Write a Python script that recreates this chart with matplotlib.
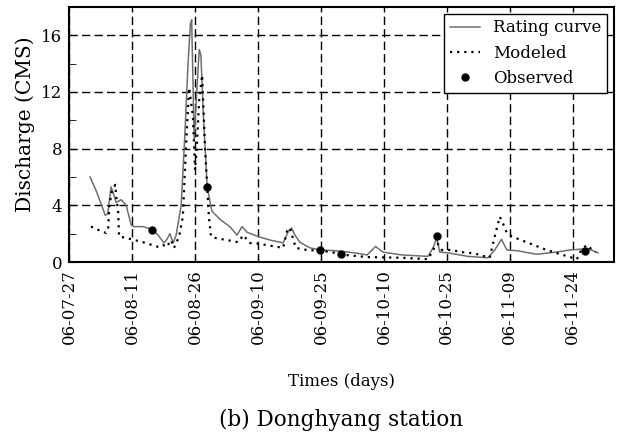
import pandas as pd
import matplotlib
matplotlib.use("Agg")
import matplotlib.pyplot as plt
import matplotlib.dates as mdates
from matplotlib.ticker import MultipleLocator

plt.rcParams['font.family'] = ['DejaVu Serif']
plt.rcParams['font.size'] = 12

START = pd.Timestamp("2006-07-27")

# Rating curve (days after 2006-07-27, discharge in CMS)
rating_days = [5.0, 6.5, 8.0, 8.6, 9.2, 10.0, 10.6, 11.2, 12.4, 13.6, 14.8, 15.5, 17.6,
               19.8, 21.2, 22.6, 23.3, 24.0, 24.8, 25.5, 26.7, 27.6, 28.3, 28.9, 29.2,
               29.8, 30.4, 31.0, 31.4, 32.0, 32.9, 34.0, 36.0, 38.3, 40.0, 41.2, 42.4,
               45.0, 47.9, 51.0, 52.3, 53.0, 53.8, 55.0, 57.4, 59.8, 63.3, 68.0, 71.0,
               73.0, 74.8, 79.3, 85.5, 86.7, 87.6, 88.3, 90.2, 95.0, 99.8, 101.4, 103.0,
               104.3, 106.7, 111.4, 116.0, 119.3, 121.7, 123.6, 126.0]
rating_vals = [6.0, 5.0, 3.8, 3.3, 3.4, 5.3, 4.8, 4.2, 4.4, 4.0, 2.6, 2.5, 2.5,
               2.3, 1.9, 1.35, 1.6, 2.0, 1.35, 1.9, 4.0, 9.1, 13.8, 16.8, 17.1,
               8.6, 12.0, 15.0, 14.6, 10.3, 5.3, 3.6, 3.0, 2.5, 1.9, 2.5, 2.1,
               1.8, 1.55, 1.35, 2.2, 2.4, 1.9, 1.4, 1.0, 0.85, 0.8, 0.65, 0.5,
               1.1, 0.7, 0.5, 0.4, 1.0, 1.7, 0.7, 0.65, 0.4, 0.3, 0.85, 1.6,
               0.85, 0.8, 0.55, 0.7, 0.85, 0.9, 0.95, 0.65]

# Modeled discharge
model_days = [5.2, 7.1, 8.8, 9.3, 9.6, 10.2, 11.0, 11.3, 11.7, 11.9, 13.6, 17.6, 21.4,
              22.4, 23.2, 24.3, 25.0, 26.2, 27.1, 28.0, 28.6, 29.5, 30.0, 30.4, 31.0,
              31.7, 32.3, 32.9, 33.3, 33.8, 34.8, 37.6, 40.3, 41.5, 43.0, 45.0, 51.0,
              52.0, 52.6, 54.0, 56.6, 59.8, 62.4, 65.7, 71.0, 79.3, 85.5, 87.1, 87.8,
              88.8, 91.0, 93.6, 96.7, 100.2, 101.4, 102.6, 103.4, 104.3, 105.5, 109.0,
              113.8, 119.3, 121.0, 122.0, 123.3, 124.5, 125.5]
model_vals = [2.5, 2.25, 2.05, 2.4, 4.0, 5.0, 5.45, 4.4, 3.5, 1.8, 1.7, 1.4, 1.05,
              1.2, 1.05, 1.55, 1.0, 1.8, 3.2, 9.1, 12.3, 10.3, 6.5, 8.0, 11.5,
              13.2, 8.6, 5.3, 3.2, 1.8, 1.7, 1.55, 1.4, 1.9, 1.35, 1.3, 1.0,
              2.3, 2.4, 1.0, 0.85, 0.8, 0.7, 0.5, 0.35, 0.3, 0.2, 1.05, 1.3,
              0.85, 0.85, 0.7, 0.6, 0.3, 1.8, 3.2, 2.7, 2.05, 1.8, 1.4,
              0.85, 0.35, 0.2, 0.85, 1.2, 0.9, 0.7]

# Observed discharge
obs_days = [19.8, 32.9, 59.8, 64.8, 87.6, 122.9]
obs_vals = [2.25, 5.3, 0.85, 0.6, 1.85, 0.78]


def to_dates(days):
    return START + pd.to_timedelta(days, unit="D")


fig = plt.figure(figsize=(6.17, 4.36), dpi=100)
ax = fig.add_axes([0.112, 0.399, 0.883, 0.585])

ax.plot(to_dates(rating_days), rating_vals, color="#6e6e6e", lw=1.1, label="Rating curve")
ax.plot(to_dates(model_days), model_vals, color="black", lw=1.6,
        linestyle=(0, (1, 2.2)), label="Modeled")
ax.plot(to_dates(obs_days), obs_vals, "o", color="black", ms=5, label="Observed")

ax.set_xlim(START, START + pd.Timedelta(days=129.8))
ax.set_ylim(0, 18)

ax.set_xticks(pd.date_range(START, periods=9, freq="15D"))
ax.xaxis.set_major_formatter(mdates.DateFormatter("%y-%m-%d"))
ax.yaxis.set_major_locator(MultipleLocator(4))
ax.yaxis.set_minor_locator(MultipleLocator(2))
ax.tick_params(axis="x", which="major", direction="in", length=5, rotation=90, pad=5)
ax.tick_params(axis="y", which="both", direction="in", length=5, pad=5)

ax.grid(True, which="major", color="black", lw=1.0, linestyle=(0, (6, 3)))
for sp in ax.spines.values():
    sp.set_linewidth(1.5)

ax.set_ylabel("Discharge (CMS)", fontsize=14.5)
ax.yaxis.set_label_coords(-0.062, 0.54)

leg = ax.legend(loc="upper right", fancybox=False, edgecolor="black", framealpha=1,
                handlelength=1.8, labelspacing=0.5, borderaxespad=0.4, borderpad=0.35)
leg.get_frame().set_linewidth(1.0)

fig.text(0.553, 0.124, "Times (days)", ha="center", va="center", fontsize=12)
fig.text(0.553, 0.037, "(b) Donghyang station", ha="center", va="center", fontsize=15.5)

fig.savefig("out.png", dpi=100)
